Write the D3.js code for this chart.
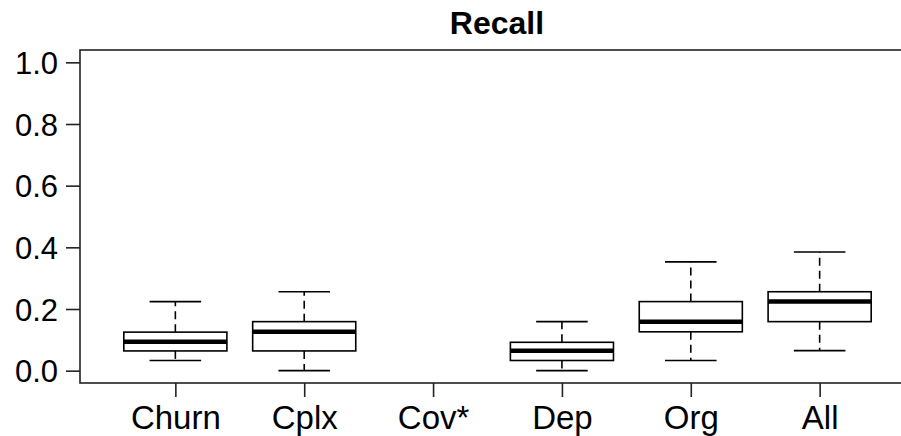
<!DOCTYPE html>
<html>
<head>
<meta charset="utf-8">
<script src="https://cdnjs.cloudflare.com/ajax/libs/d3/7.8.5/d3.min.js"></script>
<style>
  body { margin: 0; background: #fff; }
  text { font-family: "Liberation Sans", Arial, sans-serif; fill: #000; }
</style>
</head>
<body>
<div id="chart"></div>
<script>
const width = 901;
const height = 436;

// data (Cov* has no box)
const categories = ['Churn', 'Cplx', 'Cov*', 'Dep', 'Org', 'All'];
const lowerWhisker = [0.033, 0.0, null, 0.0, 0.033, 0.065];
const q1 = [0.064, 0.064, null, 0.033, 0.126, 0.159];
const median = [0.094, 0.126, null, 0.065, 0.159, 0.224];
const q3 = [0.125, 0.159, null, 0.092, 0.224, 0.256];
const upperWhisker = [0.224, 0.256, null, 0.159, 0.353, 0.385];
const yTicks = [0.0, 0.2, 0.4, 0.6, 0.8, 1.0];

const boxes = categories.map((c, i) => ({
  name: c, pos: i + 1,
  lo: lowerWhisker[i], q1: q1[i], med: median[i], q3: q3[i], hi: upperWhisker[i]
}));

// R style plot region: xlim 0.5..6.5 and ylim 0..1, both padded by 4%
const x = d3.scaleLinear().domain([0.26, 6.74]).range([80, 915]);
const y = d3.scaleLinear().domain([-0.04, 1.04]).range([383, 50]);

const svg = d3.select('#chart').append('svg')
  .attr('width', width)
  .attr('height', height);

// title
svg.append('text')
  .attr('x', 497)
  .attr('y', 34)
  .attr('text-anchor', 'middle')
  .style('font-size', '32px')
  .style('font-weight', 'bold')
  .text('Recall');

// plot frame (right side runs off the picture)
svg.append('rect')
  .attr('x', x(0.26))
  .attr('y', y(1.04))
  .attr('width', x(6.74) - x(0.26))
  .attr('height', y(-0.04) - y(1.04))
  .attr('fill', 'none')
  .attr('stroke', '#222')
  .attr('stroke-width', 1.6);

// y axis
const yAxis = d3.axisLeft(y)
  .tickValues(yTicks)
  .tickFormat(d3.format('.1f'))
  .tickSize(14)
  .tickPadding(8);
const gy = svg.append('g')
  .attr('transform', 'translate(' + x(0.26) + ',0)')
  .call(yAxis);
gy.select('.domain').remove();
gy.selectAll('line').attr('stroke', '#222').attr('stroke-width', 1.6);
gy.selectAll('text')
  .style('font-size', '31px')
  .attr('dy', '0.36em');

// x axis
const xAxis = d3.axisBottom(x)
  .tickValues(boxes.map(d => d.pos))
  .tickFormat((d, i) => categories[i])
  .tickSize(14)
  .tickPadding(9);
const gx = svg.append('g')
  .attr('transform', 'translate(0,' + y(-0.04) + ')')
  .call(xAxis);
gx.select('.domain').remove();
gx.selectAll('line').attr('stroke', '#222').attr('stroke-width', 1.6);
gx.selectAll('text')
  .style('font-size', '33px')
  .attr('dy', '0.71em');

// boxes
const boxW = 0.8;
const capW = 0.4;
const g = svg.append('g')
  .selectAll('g')
  .data(boxes.filter(d => d.med !== null))
  .join('g');

// dashed whiskers
g.append('line')
  .attr('x1', d => x(d.pos)).attr('x2', d => x(d.pos))
  .attr('y1', d => y(d.q3)).attr('y2', d => y(d.hi))
  .attr('stroke', '#000').attr('stroke-width', 1.6)
  .attr('stroke-dasharray', '8,5');
g.append('line')
  .attr('x1', d => x(d.pos)).attr('x2', d => x(d.pos))
  .attr('y1', d => y(d.q1)).attr('y2', d => y(d.lo))
  .attr('stroke', '#000').attr('stroke-width', 1.6)
  .attr('stroke-dasharray', '8,5');

// whisker caps
g.append('line')
  .attr('x1', d => x(d.pos - capW / 2)).attr('x2', d => x(d.pos + capW / 2))
  .attr('y1', d => y(d.hi)).attr('y2', d => y(d.hi))
  .attr('stroke', '#000').attr('stroke-width', 1.6);
g.append('line')
  .attr('x1', d => x(d.pos - capW / 2)).attr('x2', d => x(d.pos + capW / 2))
  .attr('y1', d => y(d.lo)).attr('y2', d => y(d.lo))
  .attr('stroke', '#000').attr('stroke-width', 1.6);

// box
g.append('rect')
  .attr('x', d => x(d.pos - boxW / 2))
  .attr('y', d => y(d.q3))
  .attr('width', d => x(d.pos + boxW / 2) - x(d.pos - boxW / 2))
  .attr('height', d => y(d.q1) - y(d.q3))
  .attr('fill', '#fff')
  .attr('stroke', '#000')
  .attr('stroke-width', 1.6);

// median
g.append('line')
  .attr('x1', d => x(d.pos - boxW / 2)).attr('x2', d => x(d.pos + boxW / 2))
  .attr('y1', d => y(d.med)).attr('y2', d => y(d.med))
  .attr('stroke', '#000').attr('stroke-width', 4.5);
</script>
</body>
</html>
